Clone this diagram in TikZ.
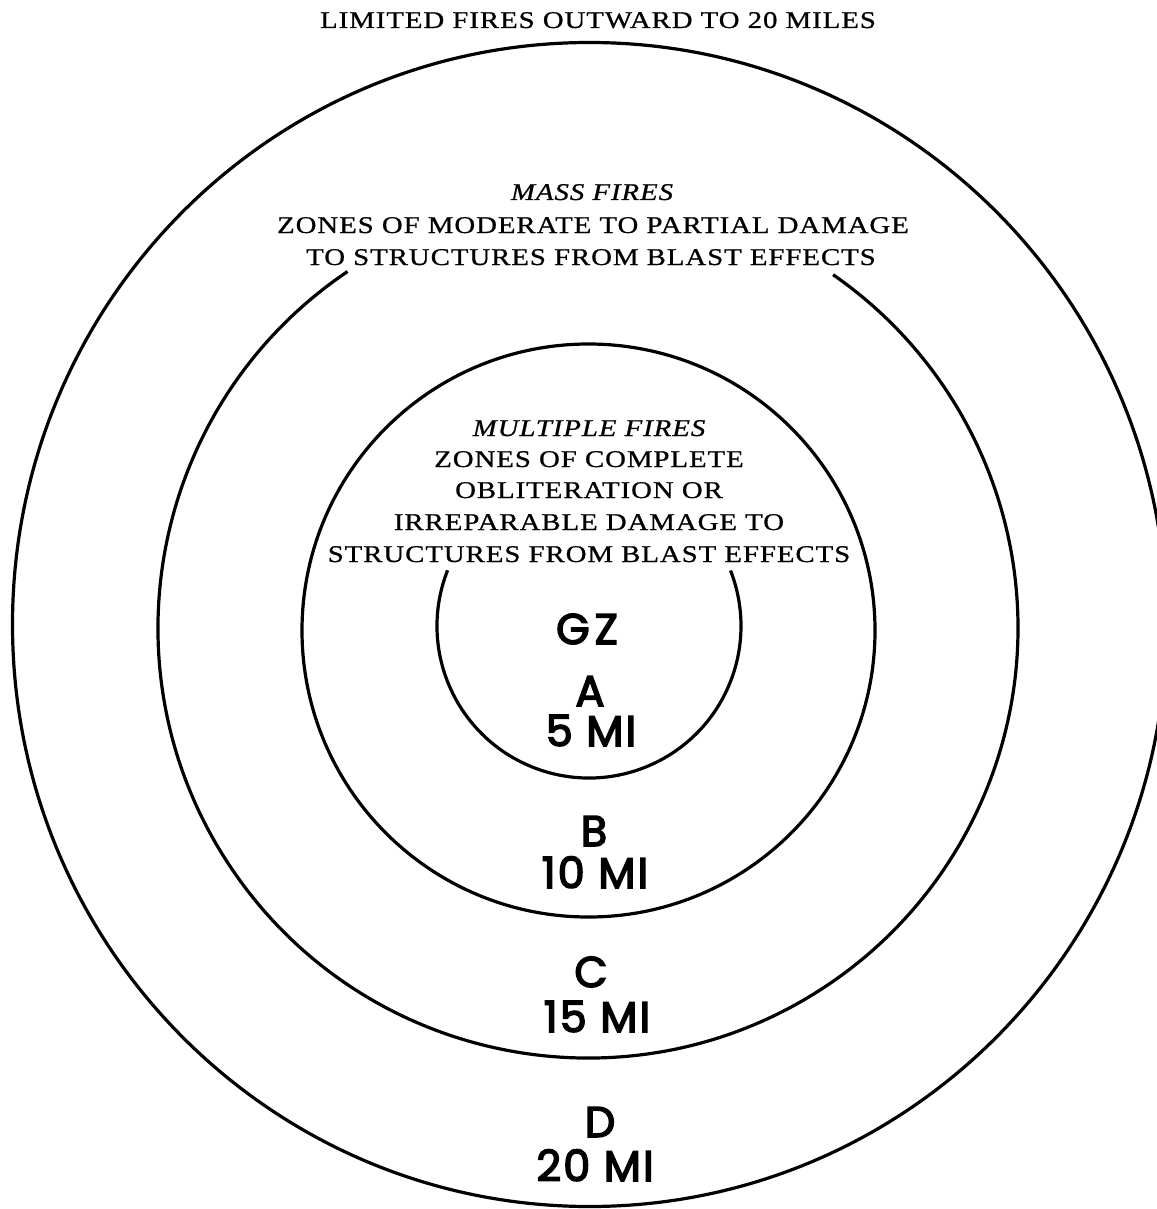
\documentclass[tikz,border=0pt]{standalone}
\usepackage{fontspec}
\newfontfamily\capserif{Liberation Serif}[FakeStretch=1.2, LetterSpace=4, FakeBold=0.8]
\newfontfamily\labfont{Poppins}[FakeBold=3.5, LetterSpace=5]
\tikzset{
  ring/.style={line width=3.2pt, black},
  serifline/.style={anchor=base, inner sep=0pt, font=\capserif\fontsize{24}{24}\selectfont},
  serifital/.style={serifline, font=\capserif\itshape\fontsize{24}{24}\selectfont},
  zonelab/.style={anchor=base, inner sep=0pt, text depth=0pt, font=\labfont\fontsize{43}{43}\selectfont}
}
\begin{document}
\begin{tikzpicture}[x=1pt, y=-1pt]
\useasboundingbox (0,0) rectangle (1156,1209);
\fill[white] (0,0) rectangle (1156,1209);
% rings
\draw[ring] (589.5,624.5) ellipse [x radius=577, y radius=582];
\draw[ring] (588,628) ++(236:430) arc[start angle=236, end angle=-55.25, radius=430];
\draw[ring] (588.5,630.5) circle [radius=286.5];
\draw[ring] (589,626) ++(201.5:152) arc[start angle=201.5, end angle=-21.4, radius=152];
% texts
\node[serifline] (title) at (598,28) {LIMITED FIRES OUTWARD TO 20 MILES};
\node[serifital] (mass) at (592,200) {MASS FIRES};
\node[serifline] (mass1) at (593,233) {ZONES OF MODERATE TO PARTIAL DAMAGE};
\node[serifline] (mass2) at (591,265) {TO STRUCTURES FROM BLAST EFFECTS};
\node[serifital] (mult) at (589,436) {MULTIPLE FIRES};
\node[serifline] (mult1) at (589,467) {ZONES OF COMPLETE};
\node[serifline] (mult2) at (589,498) {OBLITERATION OR};
\node[serifline] (mult3) at (589,530) {IRREPARABLE DAMAGE TO};
\node[serifline] (mult4) at (589,562) {STRUCTURES FROM BLAST EFFECTS};
% zone labels
\node[zonelab] (gz) at (587,644) {G\kern5pt Z};
\node[zonelab] (la) at (590,706) {A};
\node[zonelab] (ma) at (591,746) {5 MI};
\node[zonelab] (lb) at (594,846) {B};
\node[zonelab] (mb) at (595,888) {10 MI};
\node[zonelab] (lc) at (591,987) {C};
\node[zonelab] (mc) at (597,1032) {15 MI};
\node[zonelab] (ld) at (600,1137) {D};
\node[zonelab] (md) at (595,1181) {20 MI};
\end{tikzpicture}
\end{document}
